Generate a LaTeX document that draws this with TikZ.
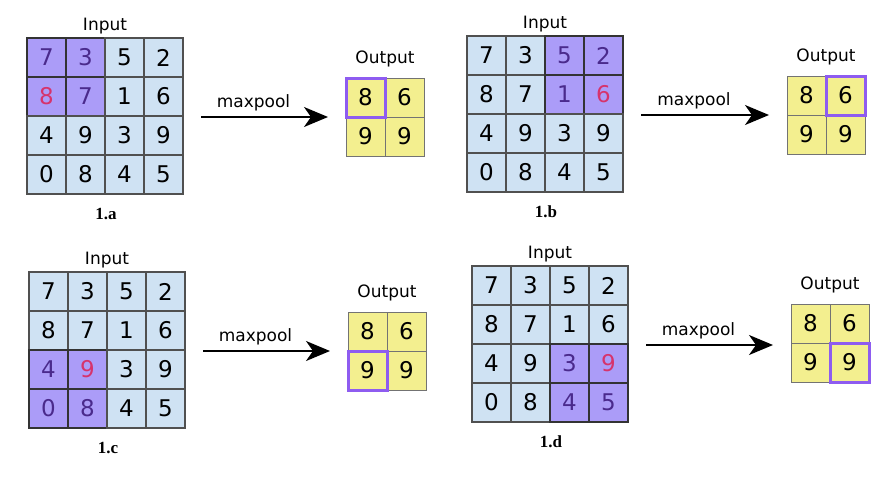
\documentclass[tikz,border=0pt]{standalone}
\usepackage{fontspec}
\newfontfamily\dvsans{DejaVu Sans}
\newfontfamily\capfont{Liberation Serif}
\usetikzlibrary{arrows.meta}
\definecolor{cellblue}{HTML}{CFE2F3}
\definecolor{cellpurple}{HTML}{AB9CF8}
\definecolor{txtpurple}{HTML}{4A2A8C}
\definecolor{txtpink}{HTML}{D6336C}
\definecolor{cellyellow}{HTML}{F3EF8F}
\definecolor{hlviolet}{HTML}{8E5CF0}
\definecolor{gridgray}{HTML}{505050}
\tikzset{
  cellbox/.style={draw=gridgray, line width=1.1pt, minimum size=39pt, inner sep=0pt, outer sep=0pt, anchor=north west, font=\dvsans\fontsize{23}{23}\selectfont},
  incell/.style={cellbox, fill=cellblue, text=black},
  wincell/.style={cellbox, fill=cellpurple, draw=black!80, text=txtpurple},
  maxcell/.style={cellbox, fill=cellpurple, draw=black!80, text=txtpink},
  outcell/.style={cellbox, fill=cellyellow, draw=black!55, line width=0.8pt, text=black},
  hlbox/.style={draw=hlviolet, line width=3pt},
  lbl/.style={font=\dvsans\fontsize{17}{17}\selectfont, anchor=base, inner sep=0pt},
  caplbl/.style={font=\capfont\fontsize{17}{17}\selectfont\bfseries, anchor=base, inner sep=0pt},
  arr/.style={line width=1.8pt, -{Stealth[length=24pt,width=20pt,inset=7pt]}}
}
% #1 name, #2 gx, #3 gy, #4 ox, #5 oy, #6 window col, #7 window row, #8 max col, #9 max row
\newcommand\poolpanel[9]{%
  \foreach \r in {0,1,2,3}{
    \foreach \c in {0,1,2,3}{
      \pgfmathtruncatemacro\val{{7,3,5,2,8,7,1,6,4,9,3,9,0,8,4,5}[\r*4+\c]}
      \pgfmathtruncatemacro\inw{and(and(\c>=#6,\c<=#6+1),and(\r>=#7,\r<=#7+1))}
      \pgfmathtruncatemacro\ismax{and(\c==#8,\r==#9)}
      \ifnum\ismax=1
        \node[maxcell] (#1-\r-\c) at ({#2+39*\c},{#3+39*\r}) {\val};
      \else\ifnum\inw=1
        \node[wincell] (#1-\r-\c) at ({#2+39*\c},{#3+39*\r}) {\val};
      \else
        \node[incell] (#1-\r-\c) at ({#2+39*\c},{#3+39*\r}) {\val};
      \fi\fi
    }
  }
  \node[outcell] (#1-o-0-0) at (#4,#5) {8};
  \node[outcell] (#1-o-0-1) at ({#4+39},#5) {6};
  \node[outcell] (#1-o-1-0) at (#4,{#5+39}) {9};
  \node[outcell] (#1-o-1-1) at ({#4+39},{#5+39}) {9};
  \pgfmathtruncatemacro\hr{#7/2}
  \pgfmathtruncatemacro\hc{#6/2}
  \draw[hlbox] (#1-o-\hr-\hc.north west) rectangle (#1-o-\hr-\hc.south east);
  \node[lbl] (#1-in) at ({#2+78},{#3-8}) {Input};
  \node[lbl] (#1-out) at ({#4+39},{#5-15}) {Output};
  \node[caplbl] (#1-cap) at ({#2+79},{#3+181}) {1.#1};
  \coordinate (#1-as) at ({#2+174},{#3+79});
  \coordinate (#1-ae) at ({#4-18},{#3+79});
  \draw[arr] (#1-as) -- (#1-ae);
  \node[lbl] (#1-mp) at ({(#2+174+#4-18)/2-11},{#3+69}) {maxpool};
}
\begin{document}
\begin{tikzpicture}[x=1pt,y=-1pt]
\useasboundingbox (0,0) rectangle (888,477);
\poolpanel{a}{27}{38}{346}{78}{0}{0}{0}{1}
\poolpanel{b}{467}{36}{787}{76}{2}{0}{3}{1}
\poolpanel{c}{29}{272}{348}{312}{0}{2}{1}{2}
\poolpanel{d}{472}{266}{791}{304}{2}{2}{3}{2}
\end{tikzpicture}
\end{document}
